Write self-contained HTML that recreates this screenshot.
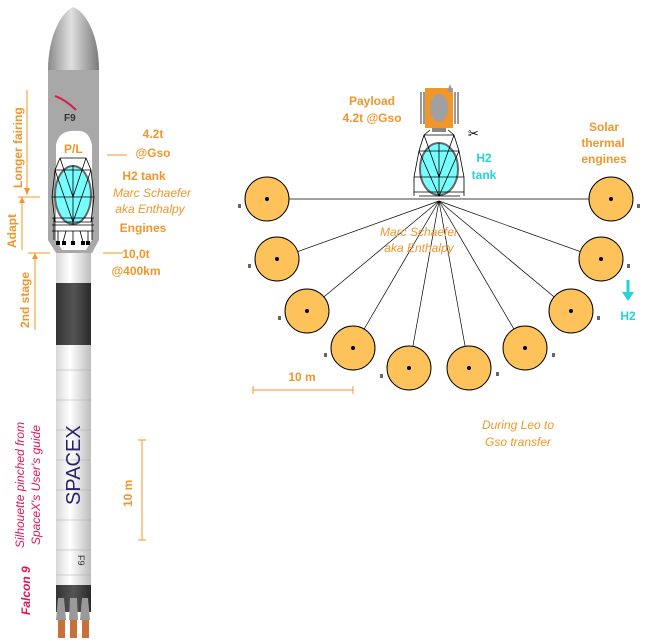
<!DOCTYPE html>
<html><head><meta charset="utf-8"><style>
body{margin:0;background:#fff;width:646px;height:642px;overflow:hidden}
svg{display:block}
.o{fill:#f0962a;font-family:"Liberation Sans",sans-serif;font-weight:bold;font-size:12px}
.oi{fill:#f0962a;font-family:"Liberation Sans",sans-serif;font-style:italic;font-size:12px}
.c{fill:#22d3dd;font-family:"Liberation Sans",sans-serif;font-weight:bold;font-size:12px}
.r{fill:#e0155a;font-family:"Liberation Sans",sans-serif;font-size:12px;font-style:italic}
</style></head><body>
<svg width="646" height="642" viewBox="0 0 646 642">
<defs>
<linearGradient id="g" x1="0" x2="1"><stop offset="0" stop-color="#8a8a8a"/><stop offset=".45" stop-color="#e0e0e0"/><stop offset="1" stop-color="#7a7a7a"/></linearGradient>
<linearGradient id="w" x1="0" x2="1"><stop offset="0" stop-color="#d8d8d8"/><stop offset=".4" stop-color="#fff"/><stop offset="1" stop-color="#bdbdbd"/></linearGradient>
<linearGradient id="d" x1="0" x2="1"><stop offset="0" stop-color="#333"/><stop offset=".5" stop-color="#555"/><stop offset="1" stop-color="#2a2a2a"/></linearGradient>
</defs>
<path d="M48,70 C48,35 62,12 73,7 C86,12 99,35 99,70 Z" fill="url(#g)"/>
<path d="M48,70 H99 V240 L92,253 H56 L48,240 Z" fill="#a8a8a8"/>
<path d="M56,145 C58,134 66,130 76,131 C86,130 90,136 92,145 V240 L86,250 H62 L56,240 Z" fill="#fff"/>
<text x="64" y="121" font-family="Liberation Sans" font-size="10" font-weight="bold" fill="#333">F9</text>
<path d="M55,96 Q66,100 76,110" stroke="#d02050" stroke-width="2" fill="none"/>
<rect x="56" y="253" width="35" height="30" fill="url(#w)"/>
<rect x="56" y="283" width="35" height="62" fill="url(#d)"/>
<rect x="56" y="345" width="35" height="240" fill="url(#w)"/>
<g stroke="#aaa" stroke-width="0.6">
<line x1="56" y1="370" x2="91" y2="370"/><line x1="56" y1="400" x2="91" y2="400"/><line x1="56" y1="430" x2="91" y2="430"/><line x1="56" y1="460" x2="91" y2="460"/><line x1="56" y1="490" x2="91" y2="490"/><line x1="56" y1="520" x2="91" y2="520"/><line x1="56" y1="550" x2="91" y2="550"/><line x1="56" y1="575" x2="91" y2="575"/></g>
<text transform="translate(80,505) rotate(-90)" font-family="Liberation Sans" font-size="20" fill="#2a2070">SPACEX</text>
<text transform="translate(78,555) rotate(90)" font-family="Liberation Sans" font-size="9" fill="#333">F9</text>
<rect x="56" y="585" width="35" height="27" fill="url(#d)"/>
<g fill="#c8703a"><rect x="58" y="620" width="7" height="18"/><rect x="70" y="620" width="7" height="18"/><rect x="82" y="620" width="7" height="18"/></g>
<g fill="#999"><path d="M58,598 L64,598 L66,620 L56,620Z"/><path d="M70,598 L77,598 L78,620 L69,620Z"/><path d="M82,598 L88,598 L90,620 L80,620Z"/></g>
<g stroke="#000" stroke-width="0.8" fill="none">
<ellipse cx="73" cy="195" rx="18" ry="29" fill="#7ff" stroke="#666" stroke-width="2"/>
<path d="M55,170 H91 M52,197 H94 M55,222 H91 M60,158 L86,158 L91,170 L94,197 L91,222 M60,158 L55,170 L52,197 L55,222 M60,158 L73,197 L86,158 M55,170 L73,222 L91,170 M73,165 V225"/>
<path d="M52,218 H94 M52,225 H94 M52,231 H94 M54,218 V240 M92,218 V240 M58,231 L58,242 M66,231 L63,242 M73,231 V242 M80,231 L83,242 M88,231 V242"/>
</g>
<g fill="#000"><rect x="56" y="241" width="4" height="4"/><rect x="62" y="241" width="4" height="4"/><rect x="71" y="241" width="4" height="4"/><rect x="81" y="241" width="4" height="4"/><rect x="86" y="241" width="4" height="4"/></g>
<text x="64" y="153" class="o" font-size="12">P/L</text>
<g stroke="#f0962a" stroke-width="1" fill="none">
<line x1="27" y1="90" x2="27" y2="195"/><line x1="18" y1="197" x2="40" y2="197"/><line x1="22" y1="197" x2="22" y2="250"/><line x1="28" y1="253" x2="50" y2="253"/><line x1="35" y1="253" x2="35" y2="330"/>
<line x1="107" y1="155" x2="127" y2="155"/><line x1="103" y1="253" x2="123" y2="253"/>
<line x1="142" y1="440" x2="142" y2="540"/><line x1="138" y1="440" x2="146" y2="440"/><line x1="138" y1="540" x2="146" y2="540"/>
<line x1="253" y1="390" x2="353" y2="390"/><line x1="253" y1="386" x2="253" y2="394"/><line x1="353" y1="386" x2="353" y2="394"/>
</g>
<g fill="#f0962a"><path d="M24,188 L30,188 L27,195Z"/><path d="M19,203 L25,203 L22,197Z"/><path d="M32,259 L38,259 L35,253Z"/></g>
<text transform="translate(22,188) rotate(-90)" class="o">Longer fairing</text>
<text transform="translate(16,248) rotate(-90)" class="o">Adapt</text>
<text transform="translate(29,328) rotate(-90)" class="o">2nd stage</text>
<text x="153" y="138" class="o" text-anchor="middle">4.2t</text>
<text x="153" y="157" class="o" text-anchor="middle">@Gso</text>
<text x="144" y="180" class="o" text-anchor="middle">H2 tank</text>
<text x="152" y="197" class="oi" text-anchor="middle">Marc Schaefer</text>
<text x="150" y="213" class="oi" text-anchor="middle">aka Enthalpy</text>
<text x="143" y="232" class="o" text-anchor="middle">Engines</text>
<text x="136" y="258" class="o" text-anchor="middle">10,0t</text>
<text x="136" y="275" class="o" text-anchor="middle">@400km</text>
<text transform="translate(132,507) rotate(-90)" class="o">10 m</text>
<text transform="translate(24,548) rotate(-90)" class="r">Silhouette pinched from</text>
<text transform="translate(40,545) rotate(-90)" class="r">SpaceX's User's guide</text>
<text transform="translate(30,615) rotate(-90)" class="r" font-weight="bold" font-style="normal">Falcon 9</text>
<g stroke="#000" stroke-width="0.7">
<line x1="267" y1="199" x2="611" y2="199"/>
<line x1="439" y1="201" x2="277" y2="259"/><line x1="439" y1="201" x2="307" y2="311"/><line x1="439" y1="201" x2="353" y2="348"/><line x1="439" y1="201" x2="409" y2="368"/><line x1="439" y1="201" x2="469" y2="368"/><line x1="439" y1="201" x2="525" y2="348"/><line x1="439" y1="201" x2="571" y2="311"/><line x1="439" y1="201" x2="601" y2="259"/>
</g>
<g fill="#fdc25a" stroke="#000" stroke-width="1">
<circle cx="267" cy="199" r="22"/><circle cx="277" cy="259" r="22"/><circle cx="307" cy="311" r="22"/><circle cx="353" cy="348" r="22"/><circle cx="409" cy="368" r="22"/><circle cx="469" cy="368" r="22"/><circle cx="525" cy="348" r="22"/><circle cx="571" cy="311" r="22"/><circle cx="601" cy="259" r="22"/><circle cx="611" cy="199" r="22"/>
</g>
<g fill="#000"><circle cx="267" cy="199" r="2"/><circle cx="277" cy="259" r="2"/><circle cx="307" cy="311" r="2"/><circle cx="353" cy="348" r="2"/><circle cx="409" cy="368" r="2"/><circle cx="469" cy="368" r="2"/><circle cx="525" cy="348" r="2"/><circle cx="571" cy="311" r="2"/><circle cx="601" cy="259" r="2"/><circle cx="611" cy="199" r="2"/></g>
<g fill="#666"><rect x="238" y="204" width="3" height="4"/><rect x="248" y="264" width="3" height="4"/><rect x="278" y="316" width="3" height="4"/><rect x="324" y="353" width="3" height="4"/><rect x="380" y="374" width="3" height="4"/><rect x="496" y="372" width="3" height="4"/><rect x="552" y="353" width="3" height="4"/><rect x="597" y="316" width="3" height="4"/><rect x="627" y="264" width="3" height="4"/><rect x="637" y="204" width="3" height="4"/></g>
<g stroke="#000" stroke-width="0.8" fill="none">
<ellipse cx="439" cy="169" rx="19" ry="26" fill="#7ff" stroke="#666" stroke-width="2"/>
<path d="M419,151 H459 M414,177 H464 M414,192 H464 M419,196 H460 M424,135 L454,135 L459,151 L464,177 V196 M424,135 L419,151 L414,177 V196 M424,135 L439,177 L454,135 M419,151 L439,196 L459,151 M439,143 V196 M430,130 L424,135 M448,130 L454,135"/>
</g>
<rect x="425" y="88" width="28" height="40" fill="#f0962a"/>
<ellipse cx="439" cy="108" rx="9" ry="14" fill="#a0a0a0"/>
<rect x="432" y="128" width="14" height="4" fill="#888"/>
<path d="M447,92 L450,84 L453,92Z" fill="#999"/>
<g stroke="#000" stroke-width="0.8"><line x1="421" y1="92" x2="421" y2="124"/><line x1="424" y1="92" x2="424" y2="124"/><line x1="455" y1="92" x2="455" y2="124"/><line x1="458" y1="92" x2="458" y2="124"/></g>
<text x="468" y="138" font-size="13" font-family="DejaVu Sans" fill="#000">✂</text>
<text x="372" y="105" class="o" text-anchor="middle">Payload</text>
<text x="372" y="122" class="o" text-anchor="middle">4.2t @Gso</text>
<text x="484" y="162" class="c" text-anchor="middle">H2</text>
<text x="484" y="179" class="c" text-anchor="middle">tank</text>
<text x="604" y="131" class="o" text-anchor="middle">Solar</text>
<text x="603" y="147" class="o" text-anchor="middle">thermal</text>
<text x="604" y="163" class="o" text-anchor="middle">engines</text>
<text x="419" y="236" class="oi" text-anchor="middle">Marc Schaefer</text>
<text x="419" y="252" class="oi" text-anchor="middle">aka Enthalpy</text>
<path d="M628,280 V293" stroke="#22d3dd" stroke-width="3"/><path d="M622,292 L634,292 L628,301Z" fill="#22d3dd"/>
<text x="628" y="320" class="c" text-anchor="middle">H2</text>
<text x="302" y="381" class="o" text-anchor="middle">10 m</text>
<text x="518" y="429" class="oi" text-anchor="middle">During Leo to</text>
<text x="518" y="446" class="oi" text-anchor="middle">Gso transfer</text>
</svg>
</body></html>
